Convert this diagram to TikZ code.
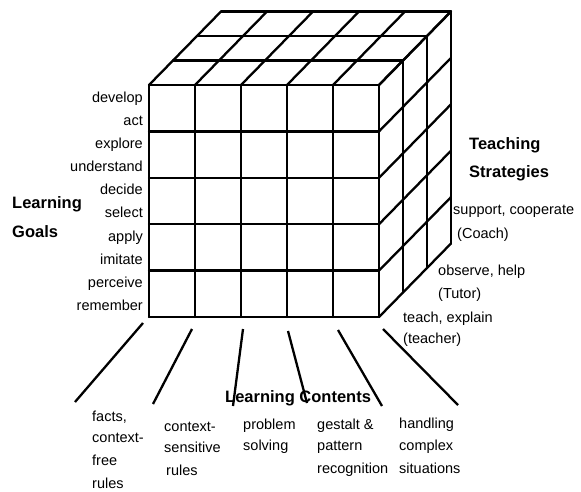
\documentclass[tikz,border=0pt]{standalone}
\usepackage{fontspec}
\setmainfont{Liberation Sans}
\usepackage{tikz}

\begin{document}
\begin{tikzpicture}[x=1bp, y=-1bp,
      cubeline/.style={line width=2.3bp, line cap=round, line join=round},
      leader/.style={line width=2.3bp},
      lab/.style={font=\fontsize{14.5bp}{17bp}\selectfont, inner sep=0pt},
      head/.style={font=\fontsize{16.5bp}{20bp}\selectfont\bfseries, inner sep=0pt}]
  \useasboundingbox (0,0) rectangle (581,492);
  \foreach \i in {0,...,5} {
    \draw[cubeline] (149+46*\i,85) -- (149+46*\i,317);
    \draw[cubeline] (149,85+46.4*\i) -- (379,85+46.4*\i);
    \draw[cubeline] (149+46*\i,85) -- ++(72,-73.5);
    \draw[cubeline] (379,85+46.4*\i) -- ++(72,-73.5);
  }
  \foreach \k in {1,2,3} {
    \draw[cubeline] (149+24*\k,85-24.5*\k) -- ++(230,0);
    \draw[cubeline] (379+24*\k,85-24.5*\k) -- ++(0,232);
  }
  \foreach \j/\lab in {0/develop,1/act,2/explore,3/understand,4/decide,
                       5/select,6/apply,7/imitate,8/perceive,9/remember}
    \node[lab, anchor=base east] (goal\j) at (143,103+23*\j) {\lab};
  \node[head, anchor=base west] (goals1) at (12,209) {Learning};
  \node[head, anchor=base west] (goals2) at (12,237) {Goals};
  \node[head, anchor=base west] (strat1) at (469,150) {Teaching};
  \node[head, anchor=base west] (strat2) at (469,178) {Strategies};
  \foreach \x/\y/\lab [count=\n] in {453/215/{support, cooperate},457/238/(Coach),
      438/275/{observe, help},438/298/(Tutor),403/322/{teach, explain},403/343/(teacher)}
    \node[lab, anchor=base west] (role\n) at (\x,\y) {\lab};
  \foreach \xa/\ya/\xb/\yb [count=\n] in {143/323/75/402,192/329/153/404,243/329/233/406,
      288/331/307/403,338/330/382/406,383/329/458/405} {
    \coordinate (top\n) at (\xa,\ya);
    \coordinate (end\n) at (\xb,\yb);
    \draw[leader] (top\n) -- (end\n);
  }
  \node[head, anchor=base west] (contents) at (225,402) {Learning Contents};
  \foreach \x/\y/\lab [count=\n] in {92/421/{facts,},92/442/context-,92/465/free,92/488/rules,
      164/431/context-,164/452/sensitive,166/475/rules,
      243/429/problem,243/450/solving,
      317/429/gestalt \&,317/450/pattern,317/473/recognition,
      399/428/handling,399/450/complex,399/473/situations}
    \node[lab, anchor=base west] (item\n) at (\x,\y) {\lab};
\end{tikzpicture}
\end{document}
